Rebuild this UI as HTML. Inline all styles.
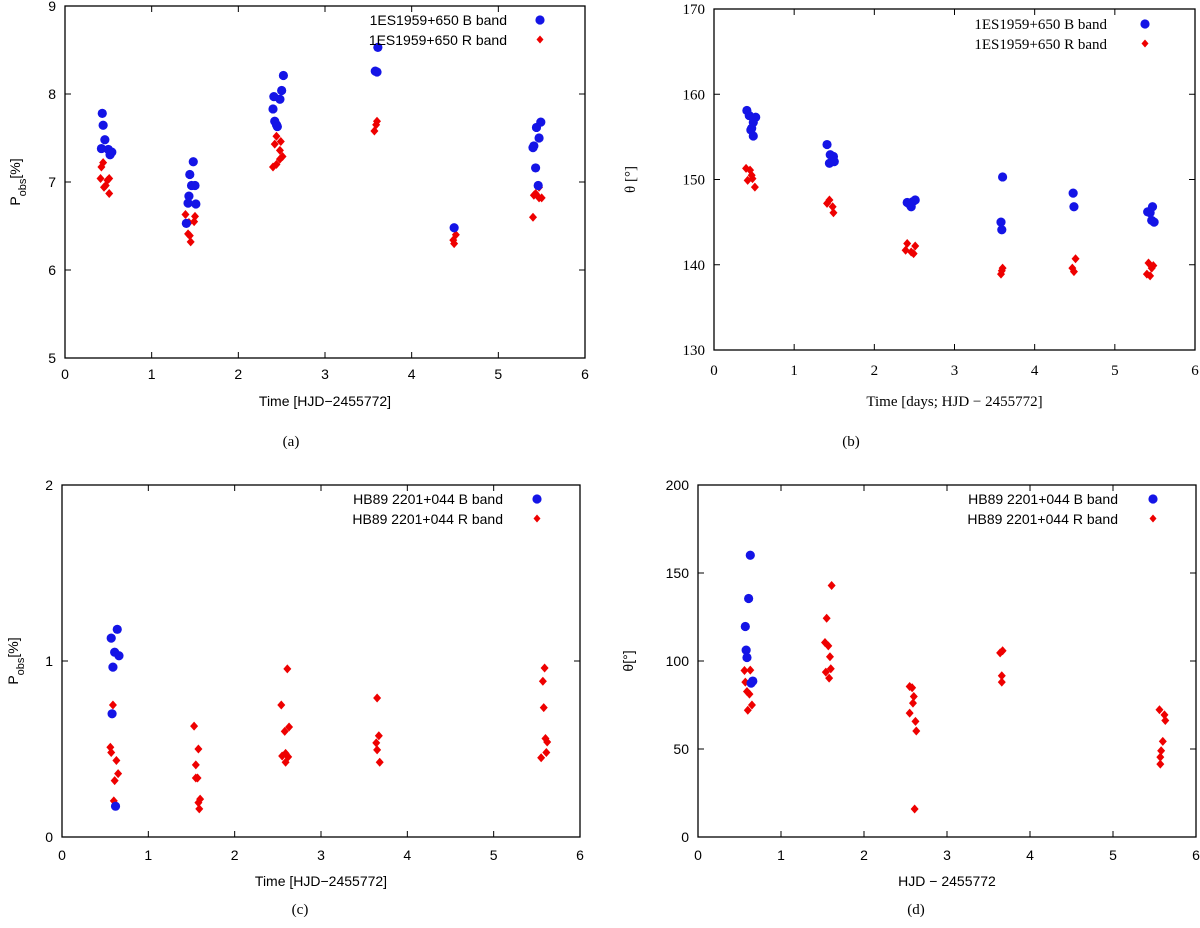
<!DOCTYPE html>
<html><head><meta charset="utf-8"><style>
body{margin:0;background:#fff;}
svg{display:block;}
.s{font-family:"Liberation Sans",sans-serif;font-size:14px;fill:#000;}
.r{font-family:"Liberation Serif",serif;font-size:15px;fill:#000;}
</style></head><body>
<svg id="fig" width="1200" height="928" viewBox="0 0 1200 928" xmlns="http://www.w3.org/2000/svg"></svg>
<script>
// ---- Panel (a): 1ES1959+650 polarization degree ----
const aBx=[0.43,0.44,0.46,0.42,0.50,0.52,0.54,1.48,1.44,1.46,1.50,1.43,1.42,1.51,1.40,2.52,2.50,2.41,2.48,2.40,2.42,2.44,2.45,3.61,3.58,3.60,4.49,5.49,5.44,5.47,5.41,5.40,5.43,5.46];
const aBy=[7.78,7.645,7.48,7.38,7.37,7.31,7.34,7.23,7.085,6.96,6.96,6.84,6.76,6.75,6.53,8.21,8.04,7.97,7.94,7.83,7.69,7.65,7.63,8.53,8.26,8.25,6.48,7.68,7.62,7.50,7.41,7.39,7.16,6.96];
const aRx=[0.44,0.42,0.41,0.51,0.49,0.47,0.45,0.51,1.39,1.50,1.43,1.49,1.42,1.44,1.45,2.44,2.49,2.42,2.48,2.51,2.48,2.44,2.40,3.60,3.59,3.57,4.51,4.48,4.49,5.47,5.43,5.41,5.47,5.50,5.40];
const aRy=[7.22,7.17,7.04,7.04,7.02,6.96,6.94,6.87,6.63,6.61,6.54,6.55,6.41,6.39,6.32,7.52,7.46,7.43,7.36,7.29,7.26,7.20,7.17,7.69,7.65,7.58,6.40,6.34,6.30,6.94,6.87,6.85,6.82,6.82,6.60];
const aYTicks=[5,6,7,8,9];
// ---- Panel (b): 1ES1959+650 polarization angle ----
const bBx=[0.41,0.44,0.52,0.49,0.47,0.46,0.49,1.41,1.45,1.49,1.44,1.50,2.41,2.48,2.46,2.51,2.44,3.60,3.58,3.59,4.48,4.49,5.47,5.41,5.44,5.46,5.49];
const bBy=[158.1,157.5,157.3,156.7,156.0,155.8,155.1,154.1,152.9,152.7,151.9,152.1,147.3,147.4,146.8,147.6,147.1,150.3,145.0,144.1,148.4,146.8,146.8,146.2,146.1,145.2,145.0];
const bRx=[0.40,0.45,0.47,0.42,0.48,0.51,1.44,1.41,1.48,1.49,2.41,2.51,2.39,2.46,2.49,3.60,3.58,3.59,4.51,4.47,4.49,5.42,5.48,5.40,5.44,5.46];
const bRy=[151.3,151.1,150.5,149.9,150.1,149.1,147.6,147.2,146.8,146.1,142.5,142.2,141.7,141.5,141.3,139.6,138.9,139.3,140.7,139.6,139.2,140.2,139.9,138.9,138.7,139.6];
const bYTicks=[130,140,150,160,170];
// ---- Panel (c): HB89 2201+044 polarization degree ----
const cBx=[0.64,0.57,0.61,0.66,0.59,0.58,0.62];
const cBy=[1.18,1.13,1.05,1.03,0.965,0.70,0.175];
const cRx=[0.59,0.56,0.57,0.63,0.65,0.61,0.60,1.53,1.58,1.55,1.55,1.57,1.60,1.58,1.59,2.61,2.54,2.63,2.58,2.59,2.55,2.62,2.59,3.65,3.67,3.64,3.65,3.68,5.59,5.57,5.58,5.60,5.62,5.61,5.55];
const cRy=[0.75,0.51,0.48,0.435,0.36,0.32,0.205,0.63,0.50,0.41,0.335,0.335,0.215,0.195,0.16,0.955,0.75,0.625,0.60,0.475,0.46,0.455,0.425,0.79,0.575,0.535,0.495,0.425,0.96,0.885,0.735,0.56,0.54,0.48,0.45];
const cYTicks=[0,1,2];
// ---- Panel (d): HB89 2201+044 polarization angle ----
const dBx=[0.63,0.61,0.57,0.58,0.59,0.66,0.64];
const dBy=[160.1,135.5,119.6,106.2,102.0,88.6,87.4];
const dRx=[0.56,0.63,0.57,0.59,0.62,0.65,0.60,1.61,1.55,1.53,1.57,1.59,1.60,1.54,1.58,2.55,2.58,2.60,2.59,2.55,2.62,2.63,2.61,3.64,3.67,3.66,3.66,5.56,5.62,5.63,5.60,5.58,5.57,5.57];
const dRy=[94.6,94.8,88.0,82.7,81.2,75.0,72.0,142.9,124.3,110.5,108.6,102.4,95.6,93.7,90.3,85.5,84.8,79.8,76.1,70.4,65.7,60.2,15.9,104.6,105.8,91.6,88.0,72.3,69.4,66.2,54.3,49.0,45.4,41.4];
const dYTicks=[0,50,100,150,200];
const xTicks=[0,1,2,3,4,5,6];

const NS="http://www.w3.org/2000/svg";
const svg=document.getElementById('fig');
function mk(tag,attrs,parent){const e=document.createElementNS(NS,tag);for(const k in attrs)e.setAttribute(k,attrs[k]);(parent||svg).appendChild(e);return e;}

function panel(p){
  const g=mk('g',{});
  
  
  const X=v=>p.x0+(v-0)/6*(p.x1-p.x0);
  const Y=v=>p.yb+(v-p.ymin)/(p.ymax-p.ymin)*(p.yt-p.yb);
  const cls=p.serif?'r':'s';
  const frame=mk('rect',{x:p.x0,y:p.yt,width:p.x1-p.x0,height:p.yb-p.yt,fill:'none',stroke:'#000','stroke-width':1.3},g);
  
  
  xTicks.forEach(t=>{
    const x=X(t);
    mk('line',{x1:x,y1:p.yb,x2:x,y2:p.yb-6,stroke:'#000'},g);
    mk('line',{x1:x,y1:p.yt,x2:x,y2:p.yt+6,stroke:'#000'},g);
    const tx=mk('text',{x:x,y:p.yb+p.tko,'text-anchor':'middle',class:cls},g);
    tx.textContent=t;
    
    
  });
  p.yt_.forEach(t=>{
    const y=Y(t);
    mk('line',{x1:p.x0,y1:y,x2:p.x0+6,y2:y,stroke:'#000'},g);
    mk('line',{x1:p.x1,y1:y,x2:p.x1-6,y2:y,stroke:'#000'},g);
    const tx=mk('text',{x:p.x0-9,y:y+5,'text-anchor':'end',class:cls},g);
    tx.textContent=t;
    
    
  });
  const xl=mk('text',{x:(p.x0+p.x1)/2,y:p.yb+p.xlo,'text-anchor':'middle',class:cls},g);
  xl.textContent=p.xlabel;
  
  
  const yl=mk('text',{x:0,y:0,'text-anchor':'middle',class:cls,transform:`translate(${p.ylx},${(p.yt+p.yb)/2}) rotate(-90)`},g);
  yl.innerHTML=p.ylabel;
  
  
  const cap=mk('text',{x:p.capx,y:p.capy,'text-anchor':'middle',class:'r','font-size':'17'},g);
  cap.textContent=p.caption;
  
  
  p.rx.forEach((v,i)=>{
    const x=X(v),y=Y(p.ry[i]);
    const d=mk('polygon',{points:`${x},${y-4.5} ${x+4},${y} ${x},${y+4.5} ${x-4},${y}`,fill:'#ee0000'},g);
    
    
  });
  p.bx.forEach((v,i)=>{
    const c=mk('circle',{cx:X(v),cy:Y(p.by[i]),r:4.6,fill:'#1414e6'},g);
    
    
  });
  const l1=mk('text',{x:p.legx,y:p.legy+5,'text-anchor':'end',class:cls},g);
  l1.textContent=p.src+' B band';
  
  
  const l2=mk('text',{x:p.legx,y:p.legy+25,'text-anchor':'end',class:cls},g);
  l2.textContent=p.src+' R band';
  
  
  const lc=mk('circle',{cx:p.legs,cy:p.legy,r:4.6,fill:'#1414e6'},g);
  
  
  const ly=p.legy+19.5;
  const ld=mk('polygon',{points:`${p.legs},${ly-4} ${p.legs+3.5},${ly} ${p.legs},${ly+4} ${p.legs-3.5},${ly}`,fill:'#ee0000'},g);
  
  
}

panel({name:'panel-a',x0:65,x1:585,yt:6,yb:358,ymin:5,ymax:9,yt_:aYTicks,bx:aBx,by:aBy,rx:aRx,ry:aRy,tko:21,xlo:48,
  xlabel:'Time [HJD\u22122455772]',ylabel:'P<tspan baseline-shift="sub" font-size="11">obs</tspan>[%]',ylx:20,
  caption:'(a)',capx:291,capy:446,src:'1ES1959+650',legx:507,legy:20,legs:540});
panel({name:'panel-b',x0:714,x1:1195,yt:9,yb:350,ymin:130,ymax:170,yt_:bYTicks,bx:bBx,by:bBy,rx:bRx,ry:bRy,serif:true,tko:25,xlo:56,
  xlabel:'Time [days; HJD \u2212 2455772]',ylabel:'\u03b8 [\u00b0]',ylx:635,
  caption:'(b)',capx:851,capy:446,src:'1ES1959+650',legx:1107,legy:24,legs:1145});
panel({name:'panel-c',x0:62,x1:580,yt:485,yb:837,ymin:0,ymax:2,yt_:cYTicks,bx:cBx,by:cBy,rx:cRx,ry:cRy,tko:23,xlo:49,
  xlabel:'Time [HJD\u22122455772]',ylabel:'P<tspan baseline-shift="sub" font-size="11">obs</tspan>[%]',ylx:18,
  caption:'(c)',capx:300,capy:914,src:'HB89 2201+044',legx:503,legy:499,legs:537});
panel({name:'panel-d',x0:698,x1:1196,yt:485,yb:837,ymin:0,ymax:200,yt_:dYTicks,bx:dBx,by:dBy,rx:dRx,ry:dRy,tko:23,xlo:49,
  xlabel:'HJD \u2212 2455772',ylabel:'\u03b8[\u00b0]',ylx:633,
  caption:'(d)',capx:916,capy:914,src:'HB89 2201+044',legx:1118,legy:499,legs:1153});
</script>
</body></html>
